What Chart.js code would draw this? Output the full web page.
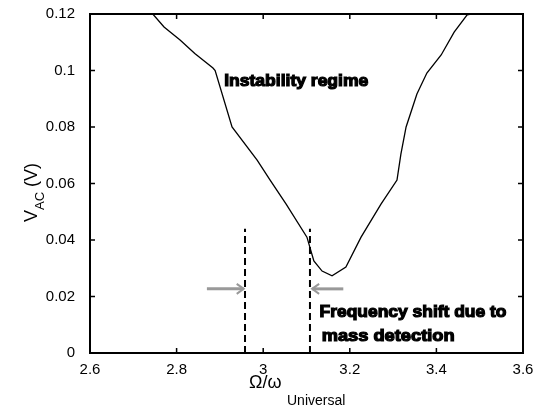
<!DOCTYPE html>
<html>
<head>
<meta charset="utf-8">
<script src="https://cdn.jsdelivr.net/npm/chart.js@4"></script>
<style>
  html, body { margin: 0; padding: 0; background: #fff; }
  #wrap { width: 534px; height: 408px; }
</style>
</head>
<body>
<div id="wrap"><canvas id="c" width="534" height="408"></canvas></div>
<script>
// data
const freq = [2.745, 2.771, 2.808, 2.842, 2.884, 2.889, 2.928, 2.986, 3.016, 3.053, 3.101, 3.117, 3.136, 3.159, 3.191, 3.226, 3.272, 3.309, 3.318, 3.330, 3.355, 3.378, 3.411, 3.441, 3.471, 3.48];
const vac  = [0.120, 0.1154, 0.1108, 0.106, 0.1009, 0.100, 0.080, 0.0683, 0.0612, 0.0527, 0.041, 0.0326, 0.029, 0.0273, 0.0304, 0.041, 0.0527, 0.0612, 0.0704, 0.080, 0.0917, 0.0991, 0.1055, 0.1136, 0.1197, 0.120];
const shiftX = [2.958, 3.108];       // dashed markers
const shiftTop = 0.044;
const arrowY = 0.0227;
const xTicks = [2.6, 2.8, 3, 3.2, 3.4, 3.6];
const yTicks = [0, 0.02, 0.04, 0.06, 0.08, 0.1, 0.12];

const dashed = shiftX.map(x => ({
  data: [{ x: x, y: 0 }, { x: x, y: shiftTop }],
  borderColor: "#000",
  borderWidth: 2,
  borderDash: [7, 4],
  pointRadius: 0,
  showLine: true
}));

const arrows = [
  { from: 2.87, to: 2.955 },
  { from: 3.185, to: 3.113 }
];
const arrowSets = arrows.map(a => ({
  data: [{ x: a.from, y: arrowY }, { x: a.to, y: arrowY }],
  borderColor: "#999",
  borderWidth: 3,
  pointRadius: 0,
  showLine: true
}));

const frame = {
  id: "frame",
  afterDatasetsDraw(chart) {
    const { ctx, chartArea: a, scales: { x, y } } = chart;
    ctx.save();
    // arrow heads
    ctx.strokeStyle = "#999";
    ctx.lineWidth = 2;
    arrows.forEach(ar => {
      const px = x.getPixelForValue(ar.to);
      const py = y.getPixelForValue(arrowY);
      const d = ar.to > ar.from ? -1 : 1;
      ctx.beginPath();
      ctx.moveTo(px + d * 7, py - 5);
      ctx.lineTo(px, py);
      ctx.lineTo(px + d * 7, py + 5);
      ctx.stroke();
    });
    // box
    ctx.strokeStyle = "#000";
    ctx.lineWidth = 2;
    ctx.strokeRect(a.left, a.top, a.right - a.left, a.bottom - a.top);
    // inward ticks on all sides
    ctx.lineWidth = 1.5;
    ctx.beginPath();
    xTicks.forEach(v => {
      const px = x.getPixelForValue(v);
      ctx.moveTo(px, a.bottom); ctx.lineTo(px, a.bottom - 5);
      ctx.moveTo(px, a.top); ctx.lineTo(px, a.top + 5);
    });
    yTicks.forEach(v => {
      const py = y.getPixelForValue(v);
      ctx.moveTo(a.left, py); ctx.lineTo(a.left + 5, py);
      ctx.moveTo(a.right, py); ctx.lineTo(a.right - 5, py);
    });
    ctx.stroke();

    // annotations, heavy and squeezed
    ctx.fillStyle = "#000";
    ctx.strokeStyle = "#000";
    const squeeze = (txt, cx, cy, w, size) => {
      ctx.font = "bold " + size + "px 'Liberation Sans'";
      const m = ctx.measureText(txt).width;
      ctx.save();
      ctx.translate(cx, cy);
      ctx.scale(w / m, 1);
      ctx.textAlign = "left";
      ctx.textBaseline = "middle";
      ctx.lineWidth = 1.2;
      ctx.fillText(txt, 0, 0);
      ctx.strokeText(txt, 0, 0);
      ctx.restore();
    };
    squeeze("Instability regime", x.getPixelForValue(2.91), y.getPixelForValue(0.096), 144, 17);
    squeeze("Frequency shift due to", x.getPixelForValue(3.13), y.getPixelForValue(0.0145), 187, 17);
    squeeze("mass detection", x.getPixelForValue(3.135), y.getPixelForValue(0.006), 133, 17);

    // axis titles with subscripts
    ctx.textAlign = "left";
    ctx.textBaseline = "alphabetic";
    ctx.font = "18px 'Liberation Sans'";
    ctx.fillText("\u03A9/\u03C9", 249, 388);
    ctx.font = "14px 'Liberation Sans'";
    ctx.fillText("Universal", 287, 405);

    ctx.translate(37, 222);
    ctx.rotate(-Math.PI / 2);
    ctx.font = "18px 'Liberation Sans'";
    ctx.fillText("V", 0, 0);
    let off = ctx.measureText("V").width;
    ctx.font = "13px 'Liberation Sans'";
    ctx.fillText("AC", off, 7);
    off += ctx.measureText("AC").width;
    ctx.font = "18px 'Liberation Sans'";
    ctx.fillText(" (V)", off, 0);
    ctx.restore();
  }
};

new Chart(document.getElementById("c"), {
  type: "scatter",
  data: {
    datasets: [
      {
        data: freq.map((f, i) => ({ x: f, y: vac[i] })),
        borderColor: "#000",
        borderWidth: 1.3,
        pointRadius: 0,
        showLine: true
      },
      ...dashed,
      ...arrowSets
    ]
  },
  options: {
    responsive: false,
    animation: false,
    layout: { padding: { top: 14, right: 11, left: 0, bottom: 0 } },
    plugins: { legend: { display: false }, tooltip: { enabled: false } },
    scales: {
      x: {
        type: "linear",
        min: 2.6,
        max: 3.6,
        afterBuildTicks: s => { s.ticks = xTicks.map(v => ({ value: v })); },
        afterFit: s => { s.height = 55; s.paddingLeft = 0; s.paddingRight = 0; },
        ticks: {
          color: "#000",
          font: { family: "'Liberation Sans'", size: 15 },
          padding: 0,
          callback: v => String(v)
        },
        grid: { display: false },
        border: { display: false }
      },
      y: {
        min: 0,
        max: 0.12,
        afterBuildTicks: s => { s.ticks = yTicks.map(v => ({ value: v })); },
        afterFit: s => { s.width = 90; s.paddingTop = 0; s.paddingBottom = 0; },
        ticks: {
          color: "#000",
          font: { family: "'Liberation Sans'", size: 15 },
          padding: 7,
          callback: v => String(v)
        },
        grid: { display: false },
        border: { display: false }
      }
    }
  },
  plugins: [frame]
});
</script>
</body>
</html>
